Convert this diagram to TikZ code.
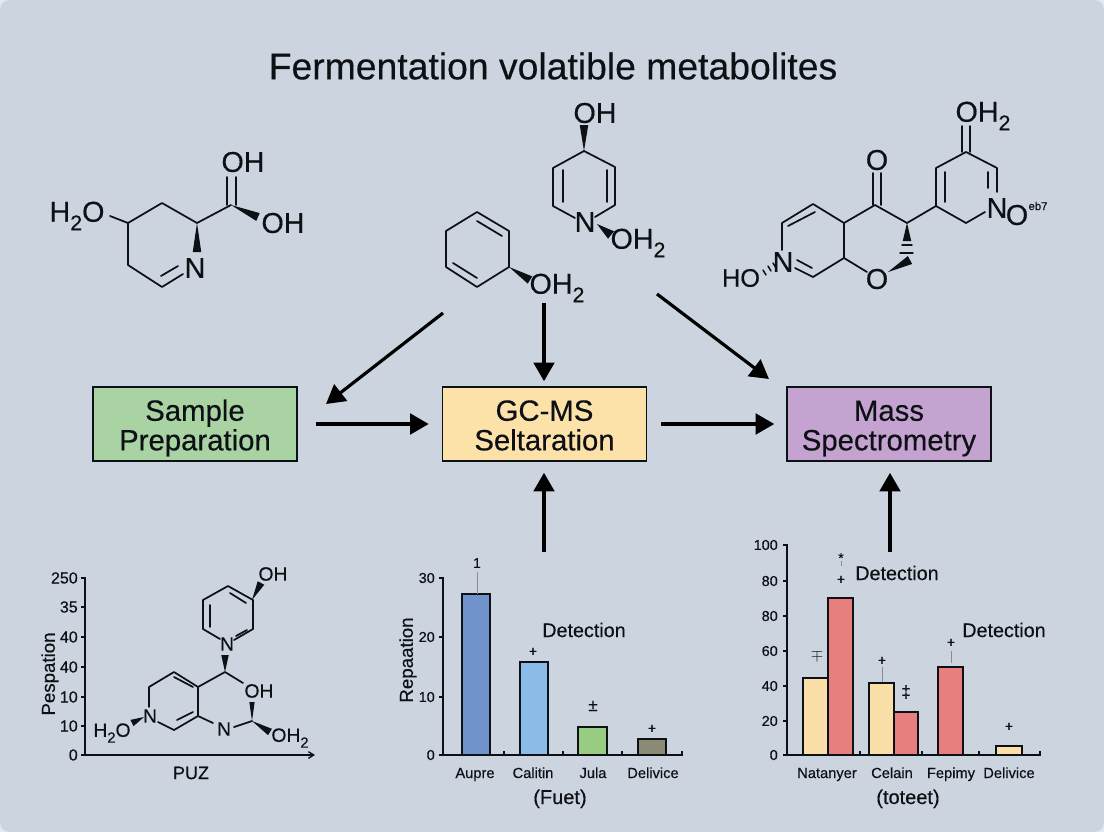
\documentclass[tikz,border=0pt]{standalone}
\usepackage{fontspec}
\setmainfont{Liberation Sans}[FakeBold=0.35]
\usepackage{xcolor}
\usetikzlibrary{arrows.meta, calc}
\definecolor{pageBg}{HTML}{ccd5df}
\definecolor{pageCorner}{HTML}{e4e9ee}
\definecolor{inkDark}{HTML}{0d1014}
\definecolor{boxGreen}{HTML}{a9d3a3}
\definecolor{boxYellow}{HTML}{fce2a9}
\definecolor{boxPurple}{HTML}{c4a3d0}
\definecolor{barBlue}{HTML}{7193cb}
\definecolor{barSky}{HTML}{8bbce8}
\definecolor{barGreen}{HTML}{98cc82}
\definecolor{barOlive}{HTML}{8b8a75}
\definecolor{barCream}{HTML}{fbdfa8}
\definecolor{barRed}{HTML}{e87f7f}
\newcommand{\lowtwo}{\raisebox{-.3em}{\fontsize{16}{16}\selectfont 2}}
\newcommand{\lowtwosmall}{\raisebox{-.3em}{\fontsize{11}{11}\selectfont 2}}
\newcommand{\boxstrut}{\rule{0pt}{24pt}}
% solid wedge bond, narrow end first
\newcommand{\wedgebond}[3][3.2pt]{\fill[inkDark] #2 -- ($#3!#1!90:#2$) -- ($#3!#1!-90:#2$) -- cycle;}

\begin{document}
\begin{tikzpicture}[x=0.75pt, y=-0.75pt,
    every node/.style={inner sep=0pt, text=inkDark},
    titletext/.style={font=\fontsize{28}{30}\selectfont},
    stagebox/.style={
        rectangle, draw=inkDark, line width=1.1pt, fill=#1,
        minimum width=153pt, minimum height=55.5pt, align=center,
        font=\fontsize{22}{22.2}\selectfont,
    },
    flowarrow/.style={
        draw=black, line width=2.4pt,
        -{Triangle[length=14pt, width=15.5pt]},
    },
    bond/.style={draw=inkDark, line width=1.3pt, line cap=round, line join=round},
    atom/.style={font=\fontsize{21.5}{22}\selectfont},
    atomsmall/.style={font=\fontsize{14.5}{15}\selectfont},
    axisline/.style={draw=inkDark, line width=1pt},
    ticklabel/.style={font=\fontsize{#1}{12}\selectfont, anchor=east},
    ticklabel/.default=10.8,
    barlabel/.style={font=\fontsize{11}{12}\selectfont, anchor=base},
    axistitle/.style={font=\fontsize{14}{15}\selectfont, rotate=90},
    captiontext/.style={font=\fontsize{15}{16}\selectfont, anchor=base},
    chartnote/.style={font=\fontsize{14.8}{16}\selectfont},
    signmark/.style={font=\fontsize{10.5}{11}\selectfont},
    doublemark/.style={font=\fontsize{13}{14}\selectfont},
    barrect/.style={draw=inkDark, line width=1.1pt, fill=#1},
    errline/.style={draw=black!45, line width=0.6pt},
]
\useasboundingbox (0,0) rectangle (1104,832);

% ── Background ─────────────────────────────────────────────────────────
\fill[pageCorner] (0,0) rectangle (1104,832);
\fill[pageBg, rounded corners=7pt] (0,0) rectangle (1104,832);

\node[titletext] (title) at (553,66) {Fermentation volatible metabolites};

% ── Stages ─────────────────────────────────────────────────────────────
\node[stagebox=boxGreen]  (sample) at (195,424)   {\boxstrut Sample\\\strut Preparation};
\node[stagebox=boxYellow] (gcms)   at (544.5,424) {\boxstrut GC-MS\\\strut Seltaration};
\node[stagebox=boxPurple] (mass)   at (889,424)   {\boxstrut Mass\\\strut Spectrometry};

% ── Arrows ─────────────────────────────────────────────────────────────
\coordinate (fromRing)   at (443,313);
\coordinate (toSample)   at (326,404);
\coordinate (fromOH)     at (544,303);
\coordinate (fromPyran)  at (657,294);
\coordinate (toMass)     at (769,379);
\coordinate (fromBarsA)  at (544,552);
\coordinate (fromBarsB)  at (890,552);

\draw[flowarrow] (fromRing) -- (toSample);
\draw[flowarrow, shorten >=3.8pt] (fromOH) -- (fromOH |- gcms.north);
\draw[flowarrow] (fromPyran) -- (toMass);
\draw[flowarrow, shorten <=13.5pt, shorten >=9.8pt] (sample) -- (gcms);
\draw[flowarrow, shorten <=10.5pt, shorten >=9pt] (gcms) -- (mass);
\draw[flowarrow, shorten >=8.3pt] (fromBarsA) -- (fromBarsA |- gcms.south);
\draw[flowarrow, shorten >=8.3pt] (fromBarsB) -- (fromBarsB |- mass.south);

% ── Molecule: top left ─────────────────────────────────────────────────
\node[atom] (hoA) at (77,216) {H\lowtwo O};
\node[atom] (ohAa) at (243,162) {OH};
\node[atom] (ohAb) at (283,223) {OH};
\node[atom] (nA) at (195,268) {N};
\draw[bond] (110,216) -- (128,223) -- (162,203) -- (197,223) -- (231,205);
\draw[bond] (128,223) -- (128,265) -- (162,287) -- (183,274);
\draw[bond] (161,276) -- (178,266);
\draw[bond] (227,205) -- (227,177);
\draw[bond] (236,205) -- (236,177);
\wedgebond{(197,223)}{(197,252)}
\wedgebond{(231,205)}{(258,217)}

% ── Molecule: top centre ───────────────────────────────────────────────
\node[atom] (ohB) at (595,113) {OH};
\node[atom] (nB) at (585,222) {N};
\node[atom] (ohtwoB) at (638,243) {OH\lowtwo};
\draw[bond] (584,151) -- (553,168) -- (553,206) -- (575,218);
\draw[bond] (595,217) -- (615,205) -- (615,167) -- (584,151);
\draw[bond] (563,170) -- (563,202);
\draw[bond] (607,170) -- (607,202);
\wedgebond{(584,151)}{(584,125)}
\wedgebond[3.6pt]{(597,224)}{(611,235)}

% ── Molecule: hexagon ──────────────────────────────────────────────────
\node[atom] (ohtwoC) at (557,288) {OH\lowtwo};
\draw[bond] (477,212) -- (509,231) -- (509,267) -- (477,287) -- (446,267) -- (446,231) -- cycle;
\draw[bond] (477,221) -- (502,236);
\draw[bond] (453,263) -- (477,278);
\wedgebond{(509,267)}{(530,280)}

% ── Molecule: top right ────────────────────────────────────────────────
\node[font=\fontsize{19}{20}\selectfont] (hoD) at (741,278) {HO};
\node[atom] (nDa) at (783,262) {N};
\node[atom] (oDa) at (877,160) {O};
\node[atom] (oDb) at (877,279) {O};
\node[atom] (ohtwoD) at (983,116) {OH\lowtwo};
\node[atom] (nDb) at (997,208) {N};
\node[atom] (oDc) at (1017,215) {O};
\node[font=\fontsize{8.5}{9}\selectfont] (chargeD) at (1038,206) {eb7};
\draw[bond] (782,250) -- (782,223) -- (813,204) -- (844,223) -- (844,258) -- (813,277) -- (795,268);
\draw[bond] (788,226) -- (815,212);
\draw[bond] (797,260) -- (812,268);
\draw[bond] (844,223) -- (875,205) -- (907,223) -- (936,206) -- (936,168) -- (966,152) -- (997,168) -- (997,192);
\draw[bond] (844,258) -- (867,272);
\draw[bond] (873,205) -- (873,173);
\draw[bond] (881,205) -- (881,173);
\draw[bond] (945,172) -- (945,202);
\draw[bond] (962,152) -- (962,126);
\draw[bond] (970,152) -- (970,126);
\draw[bond] (988,172) -- (988,188);
\draw[bond] (936,206) -- (966,223) -- (985,212);
\wedgebond{(907,223)}{(907,241)}
\draw[bond, line width=1.1pt] (902,245) -- (912,245);
\draw[bond, line width=1.1pt] (900,253) -- (913,253);
\wedgebond[3.4pt]{(888,272)}{(910,260)}
\draw[bond, line width=1.1pt] (773,263) -- (776,268);
\draw[bond, line width=1.1pt] (768,266) -- (771,271);
\draw[bond, line width=1.1pt] (763,270) -- (766,275);

% ── Chart: left, with molecule ─────────────────────────────────────────
\node[axistitle] (ylabelA) at (50,674) {Pespation};
\node[font=\fontsize{13.5}{15}\selectfont] (xlabelA) at (191,773) {PUZ};
\node[ticklabel=12] (tickAa) at (78,578) {250};
\node[ticklabel=12] (tickAb) at (78,607) {35};
\node[ticklabel=12] (tickAc) at (78,637) {40};
\node[ticklabel=12] (tickAd) at (78,667) {40};
\node[ticklabel=12] (tickAe) at (78,697) {10};
\node[ticklabel=12] (tickAf) at (78,726) {10};
\node[ticklabel=12] (tickAg) at (78,755) {0};
\draw[axisline] (81,578) -- (85,578) -- (85,755);
\draw[axisline] (81,607) -- (85,607);
\draw[axisline] (81,637) -- (85,637);
\draw[axisline] (81,667) -- (85,667);
\draw[axisline] (81,697) -- (85,697);
\draw[axisline] (81,726) -- (85,726);
\draw[axisline, -{Straight Barb[length=4pt, width=5pt]}] (81,755) -- (315,755);

\node[atomsmall] (ohE) at (273,574) {OH};
\node[atomsmall] (nEa) at (227,644) {N};
\node[atomsmall] (ohEb) at (259,691) {OH};
\node[atomsmall] (nEb) at (150,716) {N};
\node[atomsmall] (nEc) at (224,729) {N};
\node[atomsmall] (hoE) at (112,733) {H\lowtwosmall O};
\node[atomsmall] (ohtwoE) at (290,738) {OH\lowtwosmall};
\draw[bond] (234,640) -- (253,629) -- (253,600) -- (228,586) -- (203,600) -- (203,629) -- (220,639);
\draw[bond] (210,605) -- (210,627);
\draw[bond] (230,593) -- (246,603);
\draw[bond] (236,636) -- (247,630);
\wedgebond[2.8pt]{(252,600)}{(261,583)}
\wedgebond[2.8pt]{(225,672)}{(225,655)}
\draw[bond] (243,683) -- (225,672) -- (198,687) -- (174,672) -- (149,687) -- (149,707);
\draw[bond] (158,722) -- (174,730) -- (198,716) -- (198,687);
\draw[bond] (174,677) -- (193,687);
\draw[bond] (177,720) -- (193,712);
\draw[bond] (198,716) -- (213,723);
\draw[bond] (234,727) -- (252,721);
\wedgebond[2pt]{(252,721)}{(252,702)}
\wedgebond[2.8pt]{(252,721)}{(270,732)}
\wedgebond[2.6pt]{(144,717)}{(132,723)}

% ── Chart: middle ──────────────────────────────────────────────────────
\node[axistitle] (ylabelB) at (408,660) {Repaation};
\node[ticklabel] (tickBa) at (435,578) {30};
\node[ticklabel] (tickBb) at (435,637) {20};
\node[ticklabel] (tickBc) at (435,697) {10};
\node[ticklabel] (tickBd) at (435,755) {0};
\draw[barrect=barBlue]  (462,755) rectangle (490,594);
\draw[barrect=barSky]   (520,755) rectangle (548,662);
\draw[barrect=barGreen] (578,755) rectangle (607,727);
\draw[barrect=barOlive] (638,755) rectangle (666,739);
\draw[axisline] (439,578) -- (443,578) -- (443,755);
\draw[axisline] (439,637) -- (443,637);
\draw[axisline] (439,697) -- (443,697);
\draw[axisline] (439,755) -- (682,755) -- (682,751);
\draw[axisline] (504,755) -- (504,751);
\draw[axisline] (563,755) -- (563,751);
\draw[axisline] (622,755) -- (622,751);
\draw[errline] (477,572) -- (477,594);
\node[signmark] (markBa) at (477,563) {1};
\node[signmark] (markBb) at (533,652) {+};
\node[doublemark] (markBc) at (593,706) {±};
\node[signmark] (markBe) at (652,729) {+};
\node[chartnote] (noteB) at (584,630) {Detection};
\node[barlabel] (barBa) at (475,778) {Aupre};
\node[barlabel] (barBb) at (533,778) {Calitin};
\node[barlabel] (barBc) at (593,778) {Jula};
\node[barlabel] (barBd) at (653,778) {Delivice};
\node[captiontext] (captionB) at (560,804) {(Fuet)};

% ── Chart: right ───────────────────────────────────────────────────────
\node[ticklabel] (tickCa) at (778,545) {100};
\node[ticklabel] (tickCb) at (778,581) {80};
\node[ticklabel] (tickCc) at (778,616) {80};
\node[ticklabel] (tickCd) at (778,651) {60};
\node[ticklabel] (tickCe) at (778,686) {40};
\node[ticklabel] (tickCf) at (778,721) {20};
\node[ticklabel] (tickCg) at (778,755) {0};
\draw[barrect=barCream] (803,755) rectangle (828,678);
\draw[barrect=barRed]   (828,755) rectangle (853,598);
\draw[barrect=barCream] (869,755) rectangle (894,683);
\draw[barrect=barRed]   (894,755) rectangle (918,712);
\draw[barrect=barRed]   (938,755) rectangle (963,667);
\draw[barrect=barCream] (996,755) rectangle (1022,746);
\draw[axisline] (783,545) -- (787,545) -- (787,755);
\draw[axisline] (783,581) -- (787,581);
\draw[axisline] (783,616) -- (787,616);
\draw[axisline] (783,651) -- (787,651);
\draw[axisline] (783,686) -- (787,686);
\draw[axisline] (783,721) -- (787,721);
\draw[axisline] (783,755) -- (1040,755) -- (1040,751);
\draw[axisline] (860,755) -- (860,751);
\draw[axisline] (922,755) -- (922,751);
\draw[axisline] (979,755) -- (979,751);
\draw[errline] (841,561) -- (841,566);
\draw[errline] (882,667) -- (882,682);
\draw[errline] (951,651) -- (951,663);
\node[signmark] (markCa) at (841,558) {*};
\node[signmark] (markCb) at (841,580) {+};
\node[doublemark] (markCc) at (817,655) {$\mp$};
\node[signmark] (markCe) at (882,661) {+};
\node[doublemark] (markCf) at (906,692) {‡};
\node[signmark] (markCh) at (951,643) {+};
\node[signmark] (markCi) at (1009,727) {+};
\node[chartnote] (noteCa) at (897,573) {Detection};
\node[chartnote] (noteCb) at (1004,630) {Detection};
\node[barlabel] (barCa) at (827,778) {Natanyer};
\node[barlabel] (barCb) at (892,778) {Celain};
\node[barlabel] (barCc) at (951,778) {Fepimy};
\node[barlabel] (barCd) at (1009,778) {Delivice};
\node[captiontext] (captionC) at (908,804) {(toteet)};

\end{tikzpicture}
\end{document}
